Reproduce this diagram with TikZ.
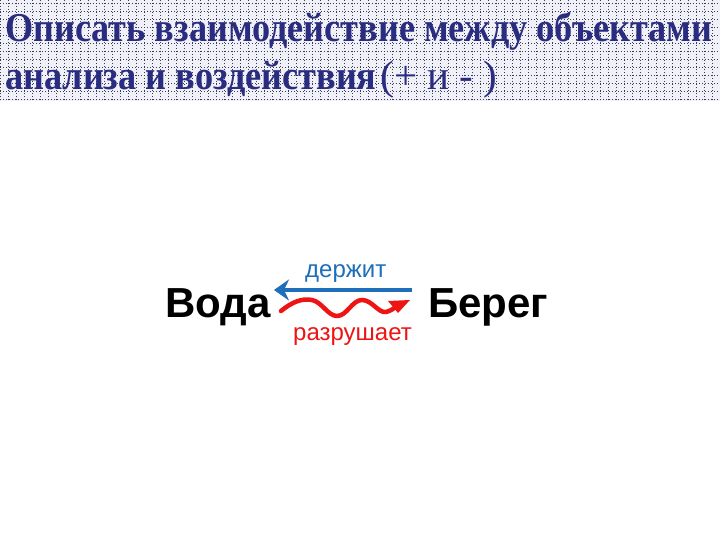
\documentclass[tikz,border=0pt]{standalone}
\usepackage{fontspec}
\setmainfont{Liberation Serif}
\newfontfamily\arialf{Liberation Sans}
\usetikzlibrary{arrows.meta}
\definecolor{navy}{RGB}{42,44,128}
\definecolor{gridfill}{RGB}{240,240,248}
\definecolor{gridline}{RGB}{60,60,80}
\definecolor{arrblue}{RGB}{30,110,185}
\definecolor{arrred}{RGB}{238,20,20}
\tikzset{
  title/.style={anchor=base west, inner sep=0pt, text=navy, font=\fontsize{41}{46}\selectfont\bfseries},
  word/.style={anchor=base west, inner sep=0pt, font=\arialf\bfseries\fontsize{42}{46}\selectfont},
  relbl/.style={anchor=base west, inner sep=0pt, font=\arialf\fontsize{24}{28}\selectfont},
}
\begin{document}
\begin{tikzpicture}[x=1pt,y=-1pt]
\useasboundingbox (0,0) rectangle (720,540);
\fill[white] (0,0) rectangle (720,540);
% grid background of title
\fill[gridfill] (0,0) rectangle (720,101);
\foreach \i in {0,8,...,720} \draw[gridline, dotted, line width=1pt] (\i,0) -- (\i,101);
\foreach \j in {4,12,...,100} \draw[gridline, dotted, line width=1pt] (0,\j) -- (720,\j);
% title
\node[title] (t1) at (5,42) {\resizebox{707pt}{\height}{Описать взаимодействие между объектами}};
\node[title] (t2) at (5,90) {\scalebox{0.885}[1]{анализа и воздействия}\hspace{4pt}\mdseries(+ и - )};
% objects
\node[word] (voda) at (165,317) {Вода};
\node[word] (bereg) at (428,317) {Берег};
\node[relbl, text=arrblue] (derzh) at (305,277) {держит};
\node[relbl, text=arrred] (razr) at (293,340) {разрушает};
% blue arrow
\coordinate (b1) at (412,290);
\coordinate (b2) at (274,290);
\draw[arrblue, line width=4pt, -{Stealth[length=15pt,width=21pt,inset=5pt]}] (b1) -- (b2);
% red wavy arrow
\coordinate (r0) at (281,311);
\coordinate (r4) at (396,307);
\draw[arrred, line width=4.5pt, line cap=round]
  (r0) .. controls (292,302) and (302,298) .. (312,300)
  .. controls (322,302) and (328,316) .. (337,316)
  .. controls (347,316) and (352,300) .. (362,300)
  .. controls (372,300) and (378,313) .. (386,312)
  .. controls (390,311) and (393,309) .. (r4);
\fill[arrred] (388,301) -- (410,300) -- (398,313) -- cycle;
\end{tikzpicture}
\end{document}
